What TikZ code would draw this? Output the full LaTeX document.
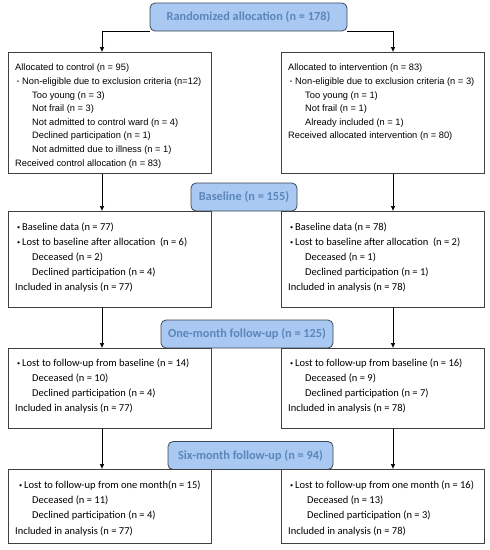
\documentclass[tikz,border=0pt]{standalone}
\usepackage{fontspec}
\setmainfont{Carlito}
\newfontfamily\arialfont{Liberation Sans}
\usetikzlibrary{arrows.meta,positioning}
\definecolor{headfill}{HTML}{A9C9F3}
\definecolor{headtext}{HTML}{5A86BA}
\definecolor{headline}{HTML}{3B4654}
\newcommand{\bul}{\hspace*{2pt}\makebox[5pt][l]{\raisebox{0.2ex}{\scalebox{0.6}{\textbullet}}}}
\newcommand{\ind}{\hspace*{17pt}}

\tikzset{
  head/.style={draw=headline, line width=0.8pt, fill=headfill, rounded corners=5pt,
    minimum height=28pt, inner sep=0pt, text=headtext,
    font=\bfseries\fontsize{12.3}{14}\selectfont},
  panel/.style={draw=black!75, line width=0.6pt, anchor=north west,
    minimum width=203pt, inner sep=0pt},
  listtxt/.style={anchor=north west, align=left, inner sep=0pt,
    font=\fontsize{10.5}{15}\selectfont},
  firsttxt/.style={listtxt, font=\arialfont\fontsize{9.3}{13.6}\selectfont},
  arr/.style={-{Latex[length=5pt,width=4.5pt]}, line width=0.6pt}
}

\begin{document}
\begin{tikzpicture}[x=1pt,y=-1pt]
\useasboundingbox (0,0) rectangle (490,550);
\coordinate (colA) at (102,0);
\coordinate (colB) at (393,0);

% stage headings
\node[head, minimum width=197pt] (rand) at (248.5,17) {Randomized allocation (n = 178)};
\node[head, minimum width=106pt] (base) at (244,197) {Baseline (n = 155)};
\node[head, minimum width=172pt] (month) at (247,334) {One-month follow-up (n = 125)};
\node[head, minimum width=165pt] (six) at (250.5,455.5) {Six-month follow-up (n = 94)};

% allocation
\node[panel, minimum height=121pt] (allocA) at (8,52) {};
\node[panel, minimum height=121pt] (allocB) at (280.5,52) {};
\node[firsttxt] at ([xshift=7pt,yshift=-12pt]allocA.north west) {%
  Allocated to control (n = 95)\\
  \bul Non-eligible due to exclusion criteria (n=12)\\
  \ind Too young (n = 3)\\
  \ind Not frail (n = 3)\\
  \ind Not admitted to control ward (n = 4)\\
  \ind Declined participation (n = 1)\\
  \ind Not admitted due to illness (n = 1)\\
  Received control allocation (n = 83)};
\node[firsttxt] at ([xshift=7.5pt,yshift=-12pt]allocB.north west) {%
  Allocated to intervention (n = 83)\\
  \bul Non-eligible due to exclusion criteria (n = 3)\\
  \ind Too young (n = 1)\\
  \ind Not frail (n = 1)\\
  \ind Already included (n = 1)\\
  Received allocated intervention (n = 80)};

% baseline
\node[panel, minimum height=96pt] (baseA) at (8,211) {};
\node[panel, minimum height=96pt] (baseB) at (280.5,211) {};
\node[listtxt] at ([xshift=7pt,yshift=-11.5pt]baseA.north west) {%
  \bul Baseline data (n = 77)\\
  \bul Lost to baseline after allocation~ (n = 6)\\
  \ind Deceased (n = 2)\\
  \ind Declined participation (n = 4)\\
  Included in analysis (n = 77)};
\node[listtxt] at ([xshift=7.5pt,yshift=-11.5pt]baseB.north west) {%
  \bul Baseline data (n = 78)\\
  \bul Lost to baseline after allocation~ (n = 2)\\
  \ind Deceased (n = 1)\\
  \ind Declined participation (n = 1)\\
  Included in analysis (n = 78)};

% one month
\node[panel, minimum height=80pt] (monthA) at (8,348) {};
\node[panel, minimum height=80pt] (monthB) at (280.5,348) {};
\node[listtxt] at ([xshift=7pt,yshift=-10.5pt]monthA.north west) {%
  \bul Lost to follow-up from baseline (n = 14)\\
  \ind Deceased (n = 10)\\
  \ind Declined participation (n = 4)\\
  Included in analysis (n = 77)};
\node[listtxt] at ([xshift=7.5pt,yshift=-10.5pt]monthB.north west) {%
  \bul Lost to follow-up from baseline (n = 16)\\
  \ind Deceased (n = 9)\\
  \ind Declined participation (n = 7)\\
  Included in analysis (n = 78)};

% six months
\node[panel, minimum height=74pt] (sixA) at (8,469) {};
\node[panel, minimum height=74pt] (sixB) at (280.5,469) {};
\node[listtxt, font=\fontsize{10.5}{15.3}\selectfont] at ([xshift=7pt,yshift=-11.5pt]sixA.north west) {%
  \hspace*{2pt}\bul Lost to follow-up from one month(n = 15)\\
  \ind Deceased (n = 11)\\
  \ind Declined participation (n = 4)\\
  Included in analysis (n = 77)};
\node[listtxt, font=\fontsize{10.5}{15.3}\selectfont] at ([xshift=7.5pt,yshift=-11.5pt]sixB.north west) {%
  \bul Lost to follow-up from one month (n = 16)\\
  \ind\hspace*{2pt}Deceased (n = 13)\\
  \ind\hspace*{2pt}Declined participation (n = 3)\\
  Included in analysis (n = 78)};

% connectors
\draw[arr] (rand.south west) -| (allocA.north -| colA);
\draw[arr] (rand.south east) -| (allocB.north -| colB);
\foreach \up/\down in {allocA/baseA, baseA/monthA, monthA/sixA}
  \draw[arr] (\up.south -| colA) -- (\down.north -| colA);
\foreach \up/\down in {allocB/baseB, baseB/monthB, monthB/sixB}
  \draw[arr] (\up.south -| colB) -- (\down.north -| colB);
\end{tikzpicture}
\end{document}
